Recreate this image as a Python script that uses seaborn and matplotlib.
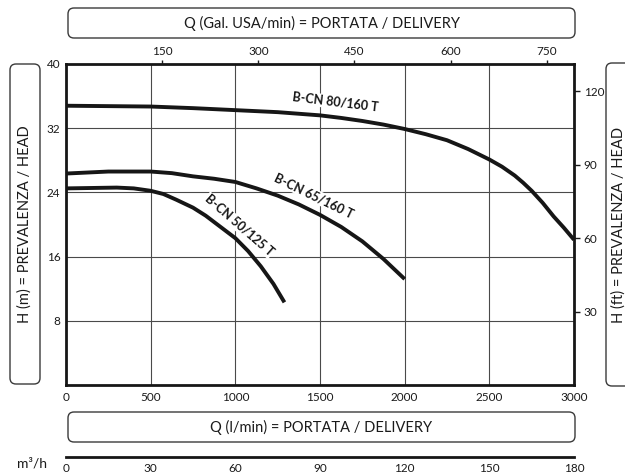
import numpy as np
import pandas as pd
import matplotlib
matplotlib.use("Agg")
import matplotlib.pyplot as plt
from matplotlib.patches import FancyBboxPatch
import seaborn as sns

# ---- data ----
q_80 = [0, 250, 500, 750, 1000, 1250, 1500, 1625, 1750, 1875, 2000, 2125, 2250,
        2375, 2500, 2575, 2650, 2700, 2750, 2815, 2880, 2940, 3000]
h_80 = [34.8, 34.75, 34.7, 34.5, 34.25, 34.0, 33.6, 33.28, 32.9, 32.45, 31.9, 31.25, 30.5,
        29.4, 28.1, 27.2, 26.1, 25.2, 24.2, 22.7, 21.0, 19.6, 18.1]
q_65 = [0, 250, 500, 625, 750, 875, 1000, 1125, 1250, 1375, 1500, 1625, 1750, 1875, 2000]
h_65 = [26.35, 26.6, 26.6, 26.4, 26.0, 25.7, 25.3, 24.5, 23.6, 22.5, 21.2, 19.7, 17.9, 15.7, 13.2]
q_50 = [0, 300, 400, 500, 575, 650, 750, 825, 900, 1000, 1075, 1150, 1225, 1290]
h_50 = [24.5, 24.6, 24.5, 24.2, 23.8, 23.1, 22.1, 21.1, 19.9, 18.3, 16.7, 14.8, 12.6, 10.3]
names = ["B-CN 80/160 T", "B-CN 65/160 T", "B-CN 50/125 T"]

x_ticks = [0, 500, 1000, 1500, 2000, 2500, 3000]
y_ticks = [8, 16, 24, 32, 40]
gal_ticks = [150, 300, 450, 600, 750]
ft_ticks = [30, 60, 90, 120]
m3h_ticks = [0, 30, 60, 90, 120, 150, 180]

sns.set_style("white")
plt.rcParams['font.family'] = ['Lato', 'DejaVu Sans']

W, H = 625, 476
fig = plt.figure(figsize=(W / 100, H / 100), dpi=100)

# background overlay (pixel coordinates) for rounded boxes
bg = fig.add_axes([0, 0, 1, 1], zorder=-5)
bg.set_xlim(0, W)
bg.set_ylim(H, 0)
bg.axis("off")

def box(x0, y0, x1, y1, text, rot=0, tx=None):
    p = FancyBboxPatch((x0, y0), x1 - x0, y1 - y0,
                       boxstyle="round,pad=0,rounding_size=6",
                       fc="white", ec="#3a3a3a", lw=1.0)
    bg.add_patch(p)
    if tx is None:
        tx = (x0 + x1) / 2
    bg.text(tx, (y0 + y1) / 2, text, rotation=rot,
            ha="center", va="center", fontsize=10.5, color="#1a1a1a")

box(68, 8, 575, 38, "Q (Gal. USA/min) = PORTATA / DELIVERY")
box(68, 412, 575, 442, "Q (l/min) = PORTATA / DELIVERY")
box(10, 64, 40, 384, "H (m) = PREVALENZA / HEAD", rot=90)
box(606, 63, 645, 386, "H (ft) = PREVALENZA / HEAD", rot=90, tx=619)

# main axes
L, R, T, B = 66, 574, 64, 385
ax = fig.add_axes([L / W, (H - B) / H, (R - L) / W, (B - T) / H])

df = pd.concat([
    pd.DataFrame({"Q": q_80, "H": h_80, "pump": names[0]}),
    pd.DataFrame({"Q": q_65, "H": h_65, "pump": names[1]}),
    pd.DataFrame({"Q": q_50, "H": h_50, "pump": names[2]}),
])
sns.lineplot(data=df, x="Q", y="H", units="pump", estimator=None,
             color="#161616", lw=2.8, ax=ax, legend=False, zorder=3,
             solid_capstyle="butt", solid_joinstyle="round")

ax.set_xlim(0, 3000)
ax.set_ylim(0, 40)
ax.set_xticks(x_ticks)
ax.set_yticks(y_ticks)
ax.set_xlabel("")
ax.set_ylabel("")
ax.grid(True, color="#4a4a4a", lw=0.8)
ax.tick_params(axis="both", length=0, labelsize=8.5, colors="#1a1a1a")
ax.tick_params(axis="x", pad=5)
ax.tick_params(axis="y", pad=4)
for s in ax.spines.values():
    s.set_linewidth(2.0)
    s.set_color("#161616")

# curve labels
lab_kw = dict(fontsize=9, fontweight="bold", color="#161616", ha="center",
              va="center", zorder=4, rotation_mode="anchor",
              bbox=dict(fc="white", ec="none", pad=0.5))
ax.text(1590, 35.25, names[0], rotation=-7, **lab_kw)
ax.text(1465, 23.6, names[1], rotation=-26, **lab_kw)
ax.text(1022, 19.9, names[2], rotation=-41, **lab_kw)

# top axis: US gal/min
axt = ax.twiny()
axt.set_xlim(0, 3000 / 3.785)
axt.set_xticks(gal_ticks)
axt.tick_params(axis="x", direction="out", length=3, width=1, labelsize=8.5,
                pad=2, colors="#1a1a1a")
for s in axt.spines.values():
    s.set_visible(False)

# right axis: feet
axr = ax.twinx()
axr.set_ylim(0, 40 / 0.3048)
axr.set_yticks(ft_ticks)
axr.tick_params(axis="y", direction="out", length=4, width=1, labelsize=8.5,
                pad=3, colors="#1a1a1a")
for s in axr.spines.values():
    s.set_visible(False)

# m3/h axis
axm = fig.add_axes([L / W, (H - 457) / H, (R - L) / W, 0.001])
axm.set_xlim(0, 180)
axm.set_xticks(m3h_ticks)
axm.set_yticks([])
for k in ["top", "left", "right"]:
    axm.spines[k].set_visible(False)
axm.spines["bottom"].set_linewidth(2.0)
axm.spines["bottom"].set_color("#161616")
axm.tick_params(axis="x", direction="out", length=3, width=1.2, labelsize=8.5,
                pad=1, colors="#1a1a1a")
axm.patch.set_alpha(0)
bg.text(32, 463, "m³/h", ha="center", va="center", fontsize=10, color="#1a1a1a")

fig.savefig("out.png", dpi=100)
